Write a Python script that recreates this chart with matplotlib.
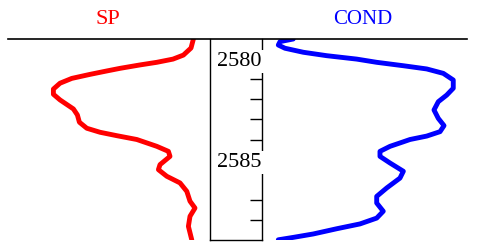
import matplotlib
matplotlib.use("Agg")
import matplotlib.pyplot as plt
from matplotlib.lines import Line2D

# depth (m) and log readings
sp_depth = [2579.00, 2579.45, 2579.80, 2580.00, 2580.16, 2580.29, 2580.46, 2580.59,
            2580.76, 2580.96, 2581.20, 2581.49, 2581.75, 2582.03, 2582.48, 2582.78,
            2583.14, 2583.44, 2583.64, 2583.81, 2584.00, 2584.34, 2584.59, 2584.84,
            2585.25, 2585.50, 2585.83, 2586.16, 2586.58, 2587.07, 2587.41, 2587.82,
            2588.32, 2589.00]
sp_vals = [92.7, 91.5, 87.7, 82.5, 74.4, 66.0, 56.0, 49.4,
           41.0, 31.9, 26.0, 22.7, 22.7, 26.0, 32.7, 34.7,
           35.7, 39.4, 46.0, 54.4, 64.4, 74.4, 80.2, 81.0,
           76.0, 75.2, 79.4, 86.0, 89.4, 91.0, 93.5, 91.0,
           90.2, 91.9]

cond_depth = [2579.00, 2579.13, 2579.30, 2579.46, 2579.66, 2579.83, 2580.00, 2580.16,
              2580.33, 2580.49, 2580.71, 2581.04, 2581.45, 2581.79, 2582.12, 2582.53,
              2582.95, 2583.31, 2583.61, 2583.83, 2584.00, 2584.12, 2584.34, 2584.59,
              2584.84, 2585.17, 2585.58, 2585.92, 2586.41, 2586.83, 2587.16, 2587.57,
              2587.91, 2588.20, 2588.44, 2588.70, 2588.87, 2588.99]
cond_vals = [30.5, 17.6, 15.9, 22.4, 40.3, 63.1, 92.4, 111.9,
             137.9, 160.7, 176.9, 186.6, 186.6, 180.2, 172.0, 167.8,
             172.0, 177.6, 173.7, 160.7, 144.4, 137.6, 124.9, 115.1,
             115.1, 124.9, 137.9, 134.6, 121.7, 111.9, 111.9, 118.3,
             111.9, 95.6, 72.9, 50.0, 30.5, 15.9]

depth_top, depth_bot = 2579, 2589
depth_labels = [2580, 2585]
minor_ticks = [2581, 2582, 2583, 2584, 2587, 2588]

W, H = 478, 247
fig = plt.figure(figsize=(W / 100, H / 100), dpi=100)

def frac(x0, x1, y0=39, y1=240):
    return [x0 / W, 1 - y1 / H, (x1 - x0) / W, (y1 - y0) / H]

ax_sp = fig.add_axes(frac(8, 208))
ax_dep = fig.add_axes(frac(210, 262))
ax_cond = fig.add_axes(frac(262, 467))

for ax in (ax_sp, ax_dep, ax_cond):
    ax.set_ylim(depth_bot, depth_top)
    ax.patch.set_alpha(0)

# SP track
ax_sp.plot(sp_vals, sp_depth, color="red", lw=3.5, solid_capstyle="round",
           solid_joinstyle="round")
ax_sp.set_xlim(0, 100)
ax_sp.axis("off")

# COND track
ax_cond.plot(cond_vals, cond_depth, color="blue", lw=3.5, solid_capstyle="round",
             solid_joinstyle="round")
ax_cond.set_xlim(0, 200)
ax_cond.axis("off")

# depth track
ax_dep.set_xticks([])
ax_dep.spines["top"].set_visible(False)
for s in ("left", "right", "bottom"):
    ax_dep.spines[s].set_linewidth(1.0)
ax_dep.yaxis.tick_right()
ax_dep.set_yticks(minor_ticks)
ax_dep.tick_params(axis="y", direction="in", length=9, width=1.0, labelright=False)
for d in depth_labels:
    ax_dep.text(1.0, d + 0.12, str(d), transform=ax_dep.get_yaxis_transform(),
                ha="right", va="center", fontsize=16, family="Liberation Serif",
                bbox=dict(facecolor="white", edgecolor="none", pad=1.5), zorder=5)

# header line and titles
fig.add_artist(Line2D([8 / W, 467 / W], [1 - 39 / H, 1 - 39 / H], color="black", lw=1.2))
fig.text(108 / W, 1 - 20 / H, "SP", color="red", ha="center", va="center",
         fontsize=16, family="Liberation Serif")
fig.text(363 / W, 1 - 20 / H, "COND", color="blue", ha="center", va="center",
         fontsize=15, family="Liberation Serif")

fig.savefig("out.png", dpi=100)
